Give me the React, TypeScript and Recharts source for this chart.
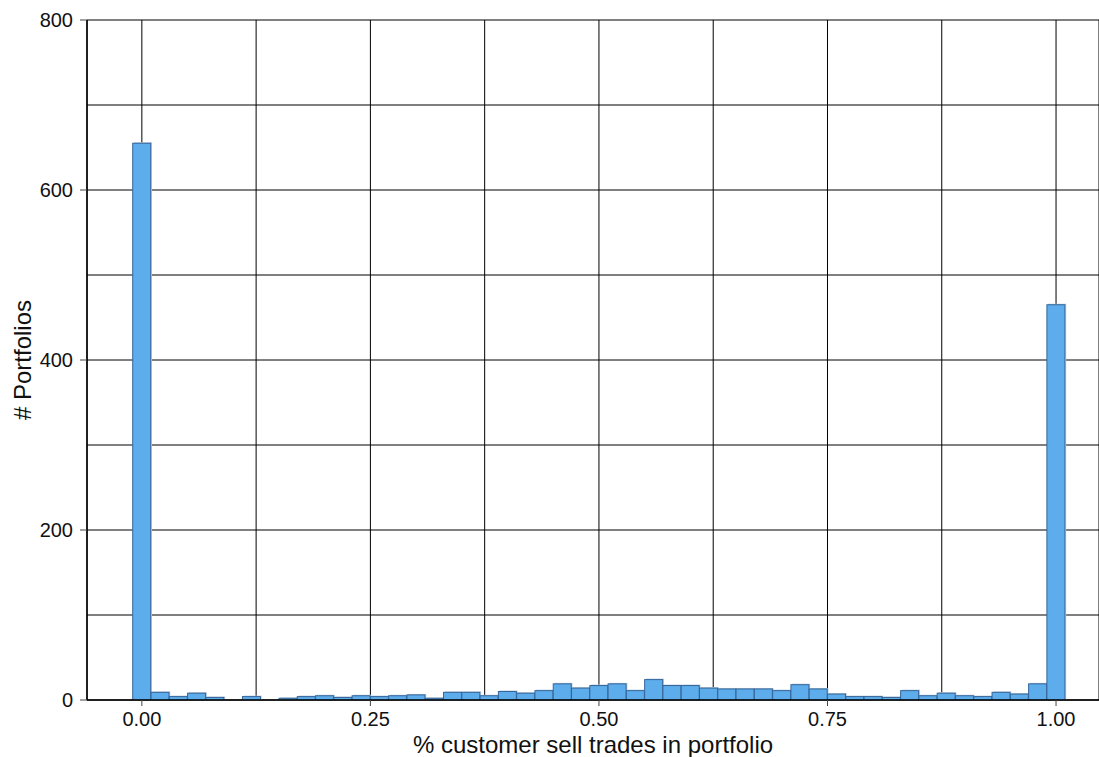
import { ComposedChart, Bar, XAxis, YAxis, CartesianGrid, Label } from "recharts";

// bin centres (share of customer sell trades), bin width 0.02
const binCenters = [
    0.0, 0.02, 0.04, 0.06, 0.08, 0.1, 0.12, 0.14, 0.16, 0.18,
    0.2, 0.22, 0.24, 0.26, 0.28, 0.3, 0.32, 0.34, 0.36, 0.38,
    0.4, 0.42, 0.44, 0.46, 0.48, 0.5, 0.52, 0.54, 0.56, 0.58,
    0.6, 0.62, 0.64, 0.66, 0.68, 0.7, 0.72, 0.74, 0.76, 0.78,
    0.8, 0.82, 0.84, 0.86, 0.88, 0.9, 0.92, 0.94, 0.96, 0.98,
    1.0,
];

// # portfolios per bin
const portfolioCounts = [
    655, 9, 4, 8, 3, 0, 4, 0, 2, 4,
    5, 3, 5, 4, 5, 6, 2, 9, 9, 5,
    10, 8, 11, 19, 14, 17, 19, 11, 24, 17,
    17, 14, 13, 13, 13, 11, 18, 13, 7, 4,
    4, 3, 11, 5, 8, 5, 4, 9, 7, 19,
    465,
];

const xTicks = [0, 0.25, 0.5, 0.75, 1];
const yTicks = [0, 200, 400, 600, 800];
const xGrid = [0, 0.125, 0.25, 0.375, 0.5, 0.625, 0.75, 0.875, 1];
const yGrid = [0, 100, 200, 300, 400, 500, 600, 700, 800];

const data = binCenters.map((x, i) => ({ x, count: portfolioCounts[i] }));

const FONT = "'Liberation Sans', Arial, sans-serif";
const xDomain: [number, number] = [-0.06, 1.047];

function HistBar(props: any) {
    const { x, y, width, height } = props;
    if (!height || height <= 0) return null;
    return (
        <g>
            <rect x={x + 1.3} y={y - 1} width={width} height={height + 1} fill="#bccbdc" />
            <rect x={x} y={y} width={width} height={height} fill="#5dadec" stroke="#35669a" strokeWidth={1} />
        </g>
    );
}

function YLabel(props: any) {
    const vb = props.viewBox || {};
    const cx = 31;
    const cy = vb.y + vb.height / 2;
    return (
        <text
            x={cx}
            y={cy}
            transform={`rotate(-90, ${cx}, ${cy})`}
            textAnchor="middle"
            fontSize={24}
            fontFamily={FONT}
            fill="#111"
        >
            # Portfolios
        </text>
    );
}

export default function App() {
    return (
        <div style={{ position: "absolute", left: 0, top: 0 }}>
            <ComposedChart
                width={1099}
                height={757}
                data={data}
                barCategoryGap={0}
                barGap={0}
                margin={{ top: 20, right: 0, left: 0, bottom: 0 }}
            >
                <XAxis xAxisId="grid" type="number" dataKey="x" domain={xDomain} allowDataOverflow ticks={xGrid} hide />
                <YAxis yAxisId="grid" type="number" domain={[0, 800]} allowDataOverflow ticks={yGrid} hide />
                <CartesianGrid xAxisId="grid" yAxisId="grid" stroke="#000" strokeWidth={1} />
                <XAxis
                    dataKey="x"
                    type="number"
                    domain={xDomain}
                    allowDataOverflow
                    ticks={xTicks}
                    tickFormatter={(v: number) => v.toFixed(2)}
                    height={57}
                    tickSize={6}
                    tickMargin={6}
                    axisLine={{ stroke: "#000", strokeWidth: 1.5 }}
                    tickLine={{ stroke: "#444" }}
                    tick={{ fill: "#111", fontSize: 20, fontFamily: FONT }}
                >
                    <Label
                        value="% customer sell trades in portfolio"
                        position="insideBottom"
                        offset={4}
                        fill="#111"
                        fontSize={24}
                        fontFamily={FONT}
                    />
                </XAxis>
                <YAxis
                    type="number"
                    domain={[0, 800]}
                    allowDataOverflow
                    ticks={yTicks}
                    width={87}
                    tickSize={7}
                    tickMargin={7}
                    axisLine={{ stroke: "#000", strokeWidth: 1.5 }}
                    tickLine={{ stroke: "#444" }}
                    tick={{ fill: "#111", fontSize: 20, fontFamily: FONT }}
                >
                    <Label content={<YLabel />} />
                </YAxis>
                <Bar dataKey="count" shape={<HistBar />} isAnimationActive={false} />
            </ComposedChart>
        </div>
    );
}
